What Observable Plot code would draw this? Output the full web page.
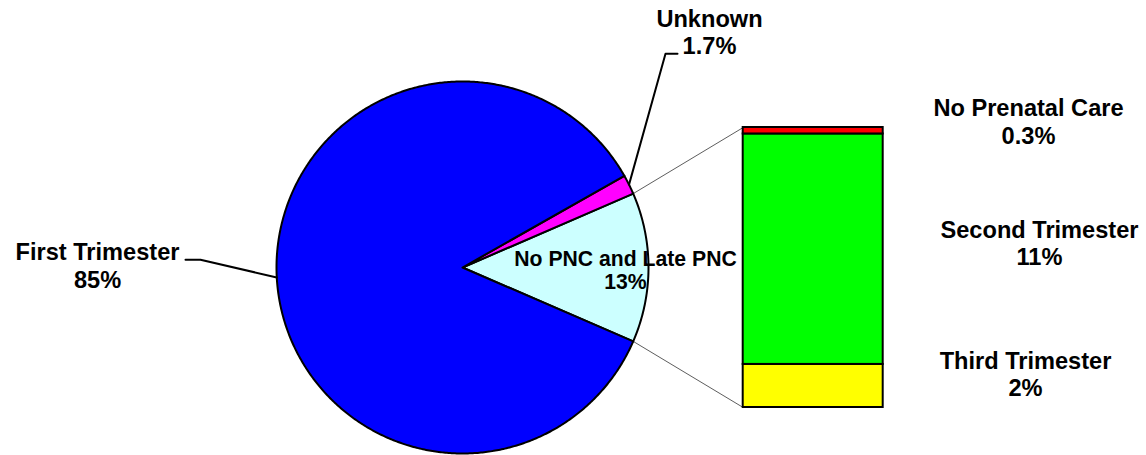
<!DOCTYPE html>
<html><head><meta charset="utf-8">
<script src="https://cdn.jsdelivr.net/npm/d3@7"></script>
<script src="https://cdn.jsdelivr.net/npm/@observablehq/plot@0.6"></script>
<style>html,body{margin:0;padding:0;background:#fff} svg{display:block}</style>
</head><body><div id="chart"></div>
<script>
// ---- data ----
const pieCategories = ["No PNC and Late PNC", "Unknown", "First Trimester"];
const pieValues = [13, 1.7, 85.3];
const pieLabels = ["13%", "1.7%", "85%"];
const barCategories = ["Third Trimester", "Second Trimester", "No Prenatal Care"];
const barValues = [2.0, 10.7, 0.3];
const barLabels = ["2%", "11%", "0.3%"];

// ---- styles ----
const pieColors = ["#CCFFFF", "#FF00FF", "#0000FF"];
const barColors = ["#FFFF00", "#00FF00", "#FF0000"];

// ---- layout (pixels) ----
const W = 1146, H = 455;
const CX = 462, CY = 267, R = 186;
const BAR_X1 = 742.7, BAR_X2 = 882.7, BAR_HALF = 140;
const labelPos = {
  "Unknown": {x: 709, y: 53.3, lh: 26.6, size: 23.6},
  "First Trimester": {x: 97, y: 287, lh: 28, size: 23.6},
  "No PNC and Late PNC": {x: 625, y: 288, lh: 23, size: 21.2},
  "No Prenatal Care": {x: 1028, y: 143, lh: 28, size: 23.6},
  "Second Trimester": {x: 1039, y: 264, lh: 27, size: 23.6},
  "Third Trimester": {x: 1025, y: 395, lh: 27, size: 23.6}
};
const leaderElbow = {
  "First Trimester": [[200, 259.3], [185, 259.3]],
  "Unknown": [[665, 53.3], [677, 53.3]]
};

const ux = px => (px - CX) / R;
const uy = py => (CY - py) / R;

// ---- pie geometry from data ----
const total = d3.sum(pieValues);
const start = -pieValues[0] / total * Math.PI;
let cum = 0;
const slices = pieCategories.map((c, i) => {
  const a0 = start + cum / total * 2 * Math.PI;
  cum += pieValues[i];
  const a1 = start + cum / total * 2 * Math.PI;
  return {cat: c, a0, a1, mid: (a0 + a1) / 2, color: pieColors[i], label: pieLabels[i]};
});
const piePts = [];
for (const s of slices) {
  piePts.push({s: s.cat, x: 0, y: 0, color: s.color});
  const n = Math.max(4, Math.ceil((s.a1 - s.a0) / (Math.PI / 360)));
  for (let k = 0; k <= n; k++) {
    const a = s.a0 + (s.a1 - s.a0) * k / n;
    piePts.push({s: s.cat, x: Math.cos(a), y: Math.sin(a), color: s.color});
  }
  piePts.push({s: s.cat, x: 0, y: 0, color: s.color});
}

// ---- bar geometry from data ----
const barTotal = d3.sum(barValues);
const halfU = BAR_HALF / R;
let bcum = 0;
const barRows = barCategories.map((c, i) => {
  const y1 = -halfU + bcum / barTotal * 2 * halfU;
  bcum += barValues[i];
  const y2 = -halfU + bcum / barTotal * 2 * halfU;
  return {cat: c, y1, y2, color: barColors[i], label: barLabels[i]};
});

// connectors from exploded slice edges to bar corners
const ex = slices[0];
const connectors = [
  {x1: Math.cos(ex.a1), y1: Math.sin(ex.a1), x2: ux(BAR_X1), y2: halfU},
  {x1: Math.cos(ex.a0), y1: Math.sin(ex.a0), x2: ux(BAR_X1), y2: -halfU}
];

// leaders
const leaderPts = [];
for (const s of slices) {
  if (!leaderElbow[s.cat]) continue;
  leaderPts.push({s: s.cat, x: Math.cos(s.mid), y: Math.sin(s.mid)});
  for (const [px, py] of leaderElbow[s.cat]) leaderPts.push({s: s.cat, x: ux(px), y: uy(py)});
}

// labels
const labels = [
  ...slices.map(s => ({text: s.cat + "\n" + s.label, cat: s.cat})),
  ...barRows.map(b => ({text: b.cat + "\n" + b.label, cat: b.cat}))
].map(d => ({...d, x: ux(labelPos[d.cat].x), y: uy(labelPos[d.cat].y), lh: labelPos[d.cat].lh, size: labelPos[d.cat].size}));

const textMarks = labels.map(d => Plot.text([d], {
  x: "x", y: "y", text: "text", lineAnchor: "bottom", textAnchor: "middle",
  fontSize: d.size, lineHeight: d.lh / d.size, fontWeight: "bold", fill: "#000"
}));

const chart = Plot.plot({
  width: W, height: H, margin: 0,
  style: {fontFamily: "'Liberation Sans', Arial, sans-serif", background: "#fff"},
  x: {domain: [ux(0), ux(W)], axis: null},
  y: {domain: [uy(H), uy(0)], axis: null},
  color: {type: "identity"},
  marks: [
    Plot.link(connectors, {x1: "x1", y1: "y1", x2: "x2", y2: "y2", stroke: "#333", strokeWidth: 0.8}),
    Plot.line(piePts, {x: "x", y: "y", z: "s", fill: "color", stroke: "#000", strokeWidth: 2, strokeLinejoin: "round", curve: "linear"}),
    Plot.rect(barRows, {x1: () => ux(BAR_X1), x2: () => ux(BAR_X2), y1: "y1", y2: "y2", fill: "color", stroke: "#000", strokeWidth: 2}),
    Plot.line(leaderPts, {x: "x", y: "y", z: "s", stroke: "#000", strokeWidth: 2}),
    ...textMarks
  ]
});
document.getElementById("chart").appendChild(chart);
</script>
</body></html>
